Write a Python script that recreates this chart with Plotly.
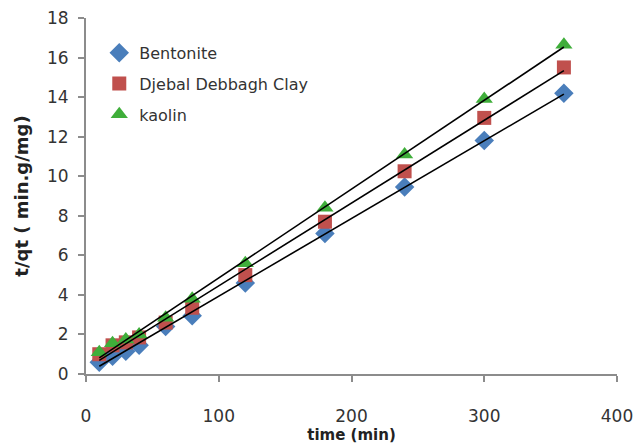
import numpy as np
import plotly.graph_objects as go

time_min = [10, 20, 30, 40, 60, 80, 120, 180, 240, 300, 360]
bentonite = [0.6, 0.9, 1.15, 1.45, 2.4, 2.95, 4.6, 7.1, 9.45, 11.8, 14.2]
djebal = [1.0, 1.45, 1.6, 1.85, 2.6, 3.35, 5.0, 7.7, 10.25, 12.95, 15.5]
kaolin = [1.1, 1.55, 1.75, 2.0, 2.85, 3.8, 5.6, 8.4, 11.1, 13.9, 16.65]

series = [
    ("Bentonite", bentonite, "#4a7ebb", "diamond", 15),
    ("Djebal Debbagh Clay", djebal, "#c0504d", "square", 14),
    ("kaolin", kaolin, "#3fae3a", "triangle-up", 15),
]

fig = go.Figure()
for i, (name, ys, col, sym, sz) in enumerate(series):
    fig.add_trace(go.Scatter(
        x=time_min, y=ys, mode="markers", name=name,
        legendgroup=str(i),
        marker=dict(symbol=sym, color=col, size=sz, line=dict(width=0)),
    ))

for name, ys, col, sym, sz in series:
    k, b = np.polyfit(time_min, ys, 1)
    xs = [time_min[0], time_min[-1]]
    fig.add_trace(go.Scatter(
        x=xs, y=[k * v + b for v in xs], mode="lines",
        line=dict(color="black", width=1.6), showlegend=False, hoverinfo="skip",
    ))

axis_common = dict(
    showgrid=False, zeroline=False, showline=True, linecolor="#8c8c8c", linewidth=2,
    ticks="outside", tickcolor="#8c8c8c", tickwidth=1.5, ticklen=6, automargin=False,
    tickfont=dict(family="DejaVu Sans", size=17, color="#333333"),
)

fig.update_layout(
    width=634, height=445,
    margin=dict(l=86, r=17, t=18, b=71),
    paper_bgcolor="white", plot_bgcolor="white",
    font=dict(family="DejaVu Sans", color="#222222"),
    xaxis=dict(range=[0, 400], dtick=100, ticklabelstandoff=20,
               title=dict(text="<b>time (min)</b>", font=dict(size=15, color="#222222"), standoff=0),
               **axis_common),
    yaxis=dict(range=[0, 18], dtick=2, ticklabelstandoff=6,
               title=dict(text="<b>t/qt ( min.g/mg)</b>", font=dict(size=18, color="#222222"), standoff=14),
               **axis_common),
    legend=dict(x=0.025, y=0.95, xanchor="left", yanchor="top",
                font=dict(size=16, color="#333333"), bgcolor="rgba(0,0,0,0)",
                tracegroupgap=7, itemwidth=30),
    showlegend=True,
)

fig.write_html("out.html")
